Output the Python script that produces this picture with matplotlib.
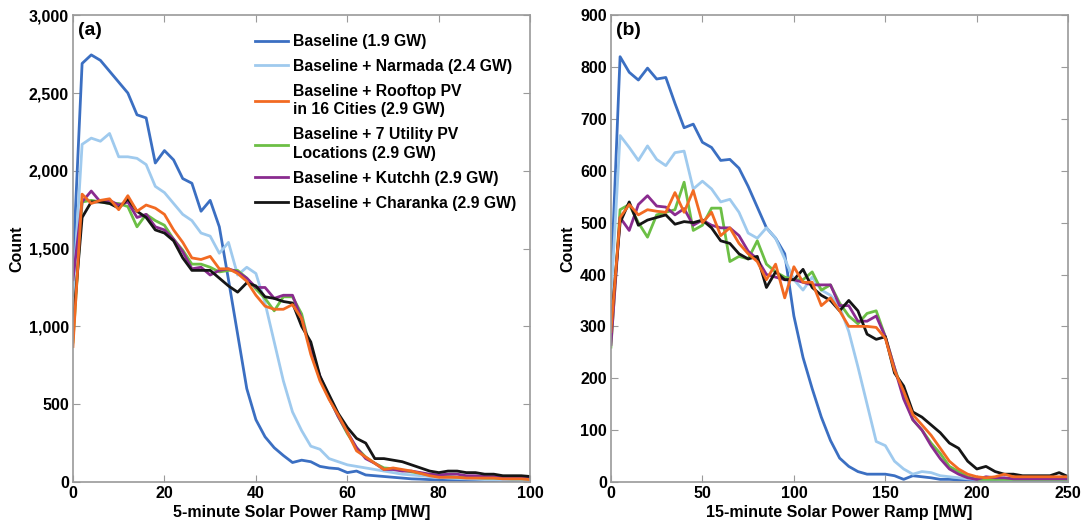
import numpy as np
import matplotlib
matplotlib.use("Agg")
import matplotlib.pyplot as plt
from matplotlib.ticker import FuncFormatter

# panel (a): 5-minute ramps, 2 MW bins
x_a = np.arange(0, 101, 2)
base_a = [1400, 2690, 2745, 2710, 2640, 2570, 2500, 2360, 2340, 2050, 2130, 2070, 1950, 1920, 1740, 1810,
          1640, 1300, 950, 600, 400, 290, 220, 170, 125, 140, 130, 100, 90, 85, 60, 70, 45, 40, 35, 30,
          25, 20, 18, 15, 12, 10, 10, 8, 8, 7, 6, 6, 5, 5, 5]
narmada_a = [1200, 2170, 2210, 2190, 2240, 2090, 2090, 2080, 2040, 1900, 1860, 1790, 1720, 1680, 1600, 1580,
             1470, 1540, 1330, 1380, 1340, 1150, 900, 650, 450, 330, 230, 210, 150, 130, 110, 100, 90, 80,
             70, 60, 50, 45, 40, 35, 30, 25, 22, 20, 18, 15, 15, 12, 12, 10, 10]
rooftop_a = [870, 1850, 1790, 1810, 1820, 1750, 1840, 1740, 1780, 1760, 1720, 1620, 1540, 1440, 1430, 1450,
             1370, 1370, 1340, 1290, 1200, 1130, 1110, 1110, 1140, 1050, 820, 650, 530, 430, 320, 200,
             160, 120, 80, 90, 80, 70, 55, 40, 30, 30, 30, 25, 25, 25, 25, 20, 20, 20, 15]
utility_a = [900, 1800, 1810, 1800, 1790, 1790, 1770, 1640, 1720, 1680, 1650, 1560, 1490, 1400, 1400, 1380,
             1350, 1360, 1360, 1310, 1240, 1180, 1100, 1190, 1190, 1080, 840, 660, 540, 420, 310, 220,
             160, 120, 90, 85, 75, 65, 55, 45, 35, 35, 30, 30, 28, 25, 25, 22, 20, 20, 18]
kutchh_a = [1300, 1800, 1870, 1800, 1810, 1780, 1800, 1700, 1720, 1640, 1620, 1560, 1480, 1370, 1380, 1330,
            1360, 1370, 1350, 1310, 1250, 1250, 1180, 1200, 1200, 1050, 850, 680, 540, 420, 320, 220,
            150, 120, 80, 80, 70, 70, 60, 50, 45, 50, 50, 40, 40, 35, 35, 30, 30, 28, 25]
charanka_a = [1000, 1700, 1800, 1800, 1790, 1760, 1820, 1740, 1700, 1620, 1600, 1550, 1440, 1360, 1360, 1360,
              1310, 1260, 1220, 1280, 1260, 1190, 1180, 1160, 1150, 1000, 900, 680, 560, 440, 350, 280,
              250, 150, 150, 140, 130, 110, 90, 70, 60, 70, 70, 60, 60, 50, 50, 40, 40, 40, 35]

# panel (b): 15-minute ramps, 5 MW bins
x_b = np.arange(0, 251, 5)
base_b = [380, 820, 790, 775, 798, 777, 780, 730, 683, 690, 655, 645, 620, 622, 605, 570, 530, 490, 470,
          440, 320, 240, 180, 125, 80, 46, 30, 20, 15, 15, 15, 12, 5, 12, 10, 8, 5, 5, 4, 4, 3, 3, 3,
          3, 3, 3, 3, 3, 3, 3, 3]
narmada_b = [350, 668, 645, 620, 648, 622, 610, 635, 638, 565, 580, 565, 540, 545, 520, 480, 470, 490, 470,
             430, 390, 370, 395, 370, 360, 338, 290, 222, 150, 78, 70, 40, 25, 15, 20, 18, 12, 10, 8, 6,
             5, 5, 5, 4, 4, 4, 4, 4, 4, 4, 4]
rooftop_b = [290, 510, 535, 515, 525, 522, 520, 558, 520, 562, 500, 520, 475, 490, 460, 440, 425, 390, 420,
             355, 415, 385, 385, 340, 355, 330, 300, 300, 300, 298, 277, 215, 175, 130, 110, 90, 65, 40,
             25, 15, 10, 8, 10, 15, 10, 10, 10, 10, 10, 10, 10]
utility_b = [260, 525, 535, 500, 472, 515, 520, 525, 578, 485, 495, 528, 528, 425, 435, 430, 465, 420, 405,
             395, 390, 390, 405, 370, 380, 345, 320, 305, 325, 330, 280, 220, 170, 120, 100, 75, 55, 30,
             20, 10, 5, 5, 5, 5, 5, 5, 5, 5, 5, 5, 5]
kutchh_b = [265, 510, 485, 535, 552, 532, 530, 515, 527, 495, 505, 495, 490, 490, 475, 445, 430, 400, 395,
            390, 390, 385, 380, 380, 380, 340, 340, 310, 310, 320, 280, 220, 160, 120, 100, 70, 45, 25,
            15, 8, 5, 10, 8, 8, 6, 6, 6, 6, 6, 6, 6]
charanka_b = [300, 500, 540, 495, 505, 510, 515, 497, 502, 500, 505, 490, 465, 460, 440, 430, 435, 375, 405,
              390, 390, 410, 375, 360, 350, 330, 350, 330, 285, 275, 280, 210, 185, 135, 125, 110, 95, 75,
              65, 40, 25, 30, 20, 15, 15, 12, 12, 12, 12, 18, 10]

labels = ["Baseline (1.9 GW)", "Baseline + Narmada (2.4 GW)",
          "Baseline + Rooftop PV\nin 16 Cities (2.9 GW)",
          "Baseline + 7 Utility PV\nLocations (2.9 GW)",
          "Baseline + Kutchh (2.9 GW)", "Baseline + Charanka (2.9 GW)"]
colors = ["#3b6fc2", "#9fcaee", "#f26a22", "#6cbf45", "#8a2b8f", "#151515"]

plt.rcParams["font.family"] = ["Liberation Sans", "DejaVu Sans"]
plt.rcParams["font.weight"] = "bold"

fig = plt.figure(figsize=(10.89, 5.25), dpi=100)
ax1 = fig.add_axes([0.067, 0.082, 0.420, 0.889])
ax2 = fig.add_axes([0.561, 0.082, 0.420, 0.889])

series_a = [base_a, narmada_a, rooftop_a, utility_a, kutchh_a, charanka_a]
series_b = [base_b, narmada_b, rooftop_b, utility_b, kutchh_b, charanka_b]
# draw order: orange on top
order = [0, 1, 3, 4, 5, 2]
lines = {}
for i in order:
    lines[i], = ax1.plot(x_a, series_a[i], color=colors[i], lw=2, label=labels[i])
    ax2.plot(x_b, series_b[i], color=colors[i], lw=2)

for ax in (ax1, ax2):
    for s in ax.spines.values():
        s.set_color("#9a9a9a")
        s.set_linewidth(1.2)
    ax.tick_params(direction="in", top=True, right=True, length=5, color="#9a9a9a",
                   labelsize=11.5, pad=3)
    ax.set_ylabel("Count", fontsize=11.5, fontweight="bold", labelpad=3)

ax1.set_xlim(0, 100)
ax1.set_ylim(0, 3000)
ax1.set_xticks(range(0, 101, 20))
ax1.set_yticks(range(0, 3001, 500))
ax1.yaxis.set_major_formatter(FuncFormatter(lambda v, p: f"{int(v):,}"))
ax1.set_xlabel("5-minute Solar Power Ramp [MW]", fontsize=11.5, fontweight="bold", labelpad=3)
ax1.text(0.012, 0.985, "(a)", transform=ax1.transAxes, fontsize=14, fontweight="bold", va="top")

ax2.set_xlim(0, 250)
ax2.set_ylim(0, 900)
ax2.set_xticks(range(0, 251, 50))
ax2.set_yticks(range(0, 901, 100))
ax2.set_xlabel("15-minute Solar Power Ramp [MW]", fontsize=11.5, fontweight="bold", labelpad=3)
ax2.text(0.012, 0.985, "(b)", transform=ax2.transAxes, fontsize=14, fontweight="bold", va="top")

leg = ax1.legend([lines[i] for i in range(6)], labels, loc="upper right", bbox_to_anchor=(1.0, 0.99),
                 frameon=False, fontsize=11.3, handlelength=2.1, handletextpad=0.3, labelspacing=0.63)
for t in leg.get_texts():
    t.set_linespacing(1.3)

fig.savefig("out.png", dpi=100)
